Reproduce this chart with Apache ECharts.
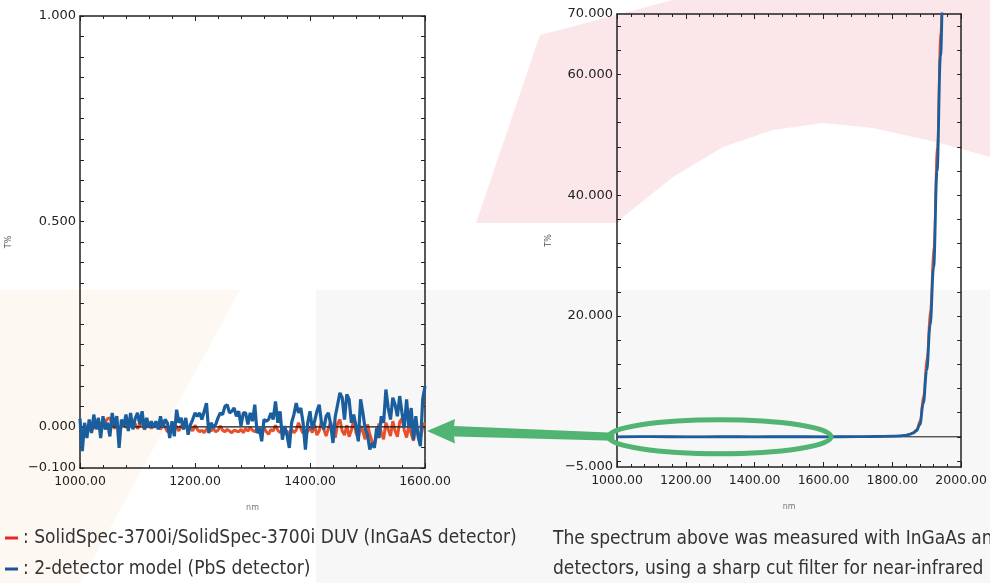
<!DOCTYPE html>
<html><head><meta charset="utf-8">
<script src="https://cdn.jsdelivr.net/npm/echarts@6/dist/echarts.min.js"></script>
<style>html,body{margin:0;padding:0;background:#fff}#c{width:990px;height:583px}</style>
</head><body><div id="c"></div>
<script>
// ---------- data ----------
const nameInGaAs = 'SolidSpec-3700i/SolidSpec-3700i DUV (InGaAS detector)';
const namePbS = '2-detector model (PbS detector)';

// Left panel: 1000–1600 nm, sampled every 4 nm
const leftStartNm = 1000, leftStepNm = 4;
const leftRed = [
  0.0, -0.015, -0.018, -0.005, 0.005, -0.01, 0.0, 0.008, -0.005, 0.01, 0.004, 0.012, 0.02,
  0.022, 0.008, -0.004, 0.006, -0.008, 0.004, 0.01, -0.002, 0.006, 0.012, 0.0, 0.008, -0.004,
  0.004, 0.01, -0.006, 0.002, 0.008, -0.004, 0.006, 0.0, 0.01, -0.006, 0.004, 0.0,
  -0.012, -0.006, 0.006, -0.008, 0.002, -0.01, 0.004, -0.004, 0.008, -0.006, 0.0, -0.01, 0.004,
  -0.006, -0.012, -0.008, -0.014, -0.006, 0.0, -0.01, -0.004, -0.012, -0.008, 0.002, -0.008,
  -0.012, -0.006, -0.01, -0.014, -0.008, -0.01, -0.012, -0.006, -0.014, -0.004, -0.01, -0.002, -0.008,
  -0.012, -0.004, -0.016, -0.008, -0.002, -0.012, -0.018, -0.006, -0.01, 0.004, -0.008, -0.014, -0.004,
  -0.018, -0.01, -0.02, -0.006, -0.014, -0.008, 0.01, -0.004, -0.016, -0.008, -0.012, 0.0,
  -0.014, 0.006, -0.02, -0.01, 0.014, -0.006, -0.022, -0.004, 0.012, -0.016, -0.026, 0.008, 0.018,
  -0.01, -0.02, 0.004, -0.024, -0.008, 0.016, -0.014, -0.028, 0.002, -0.012, -0.03, 0.006,
  -0.018, -0.036, -0.044, -0.02, 0.008, -0.014, -0.03, 0.01, -0.006, -0.022, 0.014, -0.01, -0.024,
  0.012, 0.02, -0.008, -0.026, 0.004, -0.016, -0.034, 0.006, -0.02, -0.03, 0.0, 0.01
];
const leftBlue = [
  0.02,
  -0.059, 0.01, -0.027, 0.018, -0.015, 0.03, -0.006, 0.022, -0.027, 0.026,
  -0.006, 0.01, -0.023, 0.034, 0.002, 0.026, -0.051, 0.018, 0.002, 0.03,
  -0.01, 0.034, -0.006, 0.02,
  0.034, 0.006, 0.038, -0.006, 0.022, -0.002, 0.014,
  -0.002, 0.014, -0.006, 0.026, -0.002, 0.018, 0.01, -0.027, 0.014, -0.023,
  0.042, 0.01, 0.022, -0.006, 0.022, -0.019, 0.005,
  0.018, 0.034, 0.026, 0.034,
  0.018, 0.038, 0.058, -0.015, 0.01, -0.002, 0.006, 0.022, 0.034, 0.03,
  0.05, 0.054, 0.034, 0.038, 0.046, 0.026, 0.038, 0.002, 0.034,
  0.034, 0.006, 0.034, 0.014, 0.054, -0.015, -0.002, -0.035, 0.018, 0.014,
  0.018, 0.034, 0.018, 0.062, 0.01, 0.038, -0.031, 0.002, -0.019, -0.051,
  0.01, 0.03, 0.058, 0.034, 0.046, 0.01, -0.055, 0.01, 0.038, -0.006,
  0.014, 0.038, 0.054, 0.01, -0.006, 0.026, 0.034, 0.006, -0.039, 0.026,
  0.054, 0.083, 0.071, 0.018, 0.079, 0.067, 0.01, 0.03, 0.002, -0.035,
  0.067, 0.034, -0.006, -0.019, -0.055, -0.039, -0.051, -0.002, -0.027, 0.026,
  0.01, 0.091, 0.046, 0.018, 0.071, 0.054, 0.026, 0.075, 0.034, -0.002,
  0.067, -0.002, 0.046, -0.031, 0.026, -0.023, -0.047, 0.067, 0.099
];

// Right panel: 1000–2000 nm
const rightNm   = [1000, 1100, 1200, 1300, 1400, 1500, 1600, 1700, 1750, 1800, 1820, 1840, 1850, 1860, 1870, 1880, 1890, 1900, 1910, 1920, 1930, 1940, 1950, 1960];
const rightRed  = [0, 0.01, -0.01, 0.01, 0, 0.01, 0, 0.02, 0.05, 0.1, 0.15, 0.3, 0.45, 0.7, 1.2, 2.6, 6.8, 13, 21, 31.5, 48, 67, 86, 100];
const rightBlue = [0, 0.02, -0.01, 0.01, 0, 0.02, 0, 0.02, 0.05, 0.1, 0.15, 0.25, 0.4, 0.6, 1.0, 2.0, 5.5, 11, 18.5, 28, 44, 63, 82, 98];

// tick labels
const leftXLabels  = [1000, 1200, 1400, 1600];
const rightXLabels = [1000, 1200, 1400, 1600, 1800, 2000];
const leftYLabels  = [-0.1, 0, 0.5, 1.0];
const rightYLabels = [-5, 20, 40, 60, 70];

const noteText = 'The spectrum above was measured with InGaAs and PbS\ndetectors, using a sharp cut filter for near-infrared';

// ---------- helpers ----------
const leftData = (vals) => vals.map((v, i) => [leftStartNm + leftStepNm * i, v]);
const pairs = (xs, ys) => xs.map((x, i) => [x, ys[i]]);
const fmtY = (v) => (v < 0 ? '\u2212' : '') + Math.abs(v).toFixed(3);
const stepList = (a, b, s) => { const r = []; for (let v = a; v <= b + 1e-9; v += s) r.push(+v.toFixed(4)); return r; };

const AX = '#222';
const FONT = 'DejaVu Sans';
const COND = 'DejaVu Sans Condensed';
const RED = '#e8502a', BLUE = '#1b5e9e';

function xAxis(grid, min, max, top) {
  return {
    type: 'value', gridIndex: grid, min, max, interval: 200,
    position: top ? 'top' : 'bottom',
    axisLine: { onZero: false, lineStyle: { color: AX, width: 1.5 } },
    axisTick: { inside: true, length: 5, lineStyle: { color: AX } },
    minorTick: { show: true, splitNumber: 5, length: 3, lineStyle: { color: AX } },
    splitLine: { show: false }, minorSplitLine: { show: false },
    axisLabel: top ? { show: false } : {
      show: true, color: AX, fontFamily: FONT, fontSize: 12.5, margin: 7,
      customValues: grid === 0 ? leftXLabels : rightXLabels,
      formatter: (v) => v.toFixed(2)
    },
    name: top ? '' : 'nm', nameLocation: 'middle', nameGap: 36,
    nameTextStyle: { fontSize: 8, color: '#777', fontFamily: FONT }
  };
}
function yAxis(grid, min, max, right, labels, ticks, gap) {
  return {
    type: 'value', gridIndex: grid, min, max,
    position: right ? 'right' : 'left',
    axisLine: { onZero: false, lineStyle: { color: AX, width: 1.5 } },
    axisTick: { inside: true, length: 4, lineStyle: { color: AX }, customValues: ticks },
    splitLine: { show: false },
    axisLabel: right ? { show: false } : {
      show: true, color: AX, fontFamily: FONT, fontSize: 13, margin: 4,
      customValues: labels, formatter: fmtY
    },
    name: right ? '' : 'T%', nameLocation: 'middle', nameGap: gap,
    nameTextStyle: { fontSize: 8, color: '#555', fontFamily: FONT }
  };
}

const leftYTicks = stepList(-0.1, 1.0, 0.05);
const rightYTicks = stepList(-4, 68, 4);

const chart = echarts.init(document.getElementById('c'), null, { renderer: 'canvas' });

const bg = [
  { type: 'polygon', id: 'bgPink', z: -10, silent: true,
    shape: { points: [[476,223],[540,35],[673,0],[990,0],[990,157],[940,143],[873,128],[823,123],[773,130],[723,147],[673,177],[623,217],[619,223]] },
    style: { fill: '#fbe7e9' } },
  { type: 'rect', id: 'bgGrey', z: -11, silent: true,
    shape: { x: 316, y: 290, width: 674, height: 293 }, style: { fill: '#f7f7f7' } },
  { type: 'polygon', id: 'bgWarm', z: -11, silent: true,
    shape: { points: [[0,290],[240,290],[80,583],[0,583]] }, style: { fill: '#fdf8f1' } }
];
const note = { type: 'text', id: 'note', left: 553, top: 524, silent: true,
  style: { text: noteText, fontFamily: COND, fontSize: 19, lineHeight: 30, fill: '#333' } };

chart.setOption({
  animation: false,
  backgroundColor: '#fff',
  grid: [
    { left: 80, top: 16, width: 345, height: 452 },
    { left: 617, top: 14, width: 346, height: 453 }
  ],
  xAxis: [ xAxis(0, 1000, 1600, false), xAxis(0, 1000, 1600, true), xAxis(1, 1000, 2000, false), xAxis(1, 1000, 2000, true) ],
  yAxis: [
    yAxis(0, -0.1, 1.0, false, leftYLabels, leftYTicks, 67),
    yAxis(0, -0.1, 1.0, true, leftYLabels, leftYTicks, 0),
    yAxis(1, -5, 70, false, rightYLabels, rightYTicks, 64),
    yAxis(1, -5, 70, true, rightYLabels, rightYTicks, 0)
  ],
  legend: {
    orient: 'vertical', left: 5, top: 527, padding: 0, itemWidth: 13, itemHeight: 3, icon: 'rect',
    itemGap: 9, selectedMode: false,
    textStyle: { fontFamily: COND, fontSize: 19, color: '#333', lineHeight: 22 },
    formatter: (n) => ': ' + n,
    data: [ { name: nameInGaAs, itemStyle: { color: '#e4262a' } }, { name: namePbS, itemStyle: { color: '#214f9a' } } ]
  },
  graphic: bg.concat([note]),
  series: [
    { name: nameInGaAs, type: 'line', xAxisIndex: 0, yAxisIndex: 0, data: leftData(leftRed), showSymbol: false, z: 2,
      lineStyle: { color: RED, width: 3 }, itemStyle: { color: RED } },
    { name: 'zero-left', type: 'line', xAxisIndex: 0, yAxisIndex: 0, data: [[1000, 0], [1600, 0]], showSymbol: false, z: 3, silent: true,
      lineStyle: { color: '#111', width: 1.2 } },
    { name: namePbS, type: 'line', xAxisIndex: 0, yAxisIndex: 0, data: leftData(leftBlue), showSymbol: false, z: 4,
      lineStyle: { color: BLUE, width: 3.2 }, itemStyle: { color: BLUE } },
    { name: 'zero-right', type: 'line', xAxisIndex: 2, yAxisIndex: 2, data: [[1000, 0], [2000, 0]], showSymbol: false, z: 2, silent: true,
      lineStyle: { color: '#111', width: 1 } },
    { name: nameInGaAs, type: 'line', xAxisIndex: 2, yAxisIndex: 2, data: pairs(rightNm, rightRed), showSymbol: false, z: 3,
      smooth: 0.4, smoothMonotone: 'x', lineStyle: { color: RED, width: 2 }, itemStyle: { color: RED } },
    { name: namePbS, type: 'line', xAxisIndex: 2, yAxisIndex: 2, data: pairs(rightNm, rightBlue), showSymbol: false, z: 4,
      smooth: 0.4, smoothMonotone: 'x', lineStyle: { color: BLUE, width: 2.8 }, itemStyle: { color: BLUE } }
  ]
});

// ---------- annotation: green ellipse + arrow, placed from data coords ----------
const ellipseNm = [975, 1622];
const pA = chart.convertToPixel({ xAxisIndex: 2, yAxisIndex: 2 }, [ellipseNm[0], 0]);
const pB = chart.convertToPixel({ xAxisIndex: 2, yAxisIndex: 2 }, [ellipseNm[1], 0]);
const tipP = chart.convertToPixel({ xAxisIndex: 0, yAxisIndex: 0 }, [1600, 0]);
const cx = (pA[0] + pB[0]) / 2, cy = pA[1], rx = (pB[0] - pA[0]) / 2, ry = 17;
const tx = tipP[0] + 2, ty = tipP[1] + 4;
const ex = pA[0] + 6;
const GREEN = '#52b473';
chart.setOption({
  graphic: bg.concat([
    note,
    { type: 'polygon', id: 'arrow', z: 50, silent: true,
      shape: { points: [[tx, ty], [tx + 28, ty - 12], [tx + 27, ty - 5], [ex, cy - 4], [ex, cy + 4], [tx + 27, ty + 5.5], [tx + 28, ty + 12.5]] },
      style: { fill: GREEN } },
    { type: 'ellipse', id: 'ring', z: 50, silent: true,
      shape: { cx: cx, cy: cy, rx: rx, ry: ry },
      style: { fill: 'none', stroke: GREEN, lineWidth: 5 } }
  ])
});
</script>
</body></html>
